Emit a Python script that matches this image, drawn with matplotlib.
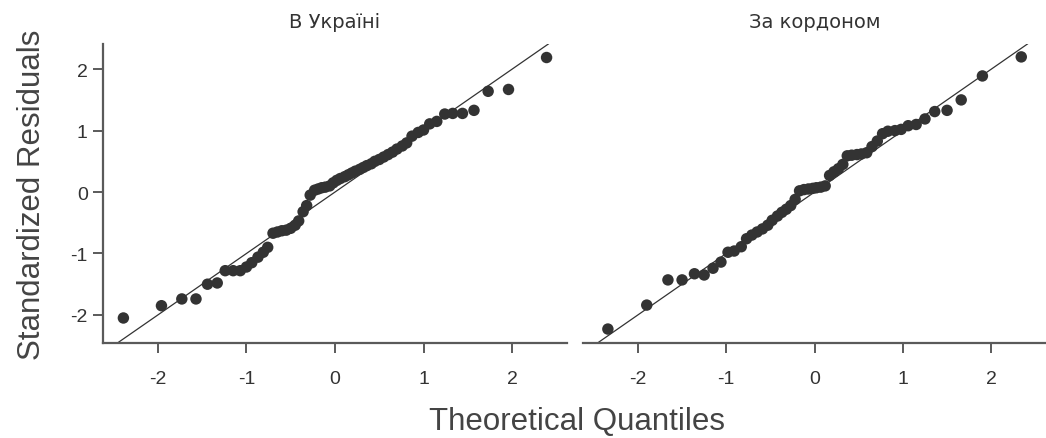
import matplotlib
matplotlib.use("Agg")

import matplotlib.pyplot as plt

plt.rcParams["font.family"] = ["Liberation Sans Narrow", "Liberation Sans", "DejaVu Sans"]
plt.rcParams["axes.unicode_minus"] = False

# panel titles
titles = ["В Україні", "За кордоном"]

# left panel: theoretical quantiles and standardized residuals
ua_x = [-2.39, -1.96, -1.73, -1.57, -1.44, -1.33, -1.24, -1.15, -1.07, -1.00,
        -0.94, -0.87, -0.81, -0.76, -0.70, -0.65, -0.60, -0.55, -0.50, -0.45,
        -0.41, -0.36, -0.32, -0.28, -0.23, -0.19, -0.15, -0.11, -0.06, -0.02,
        0.02, 0.06, 0.11, 0.15, 0.19, 0.23, 0.28, 0.32, 0.36, 0.41,
        0.45, 0.50, 0.55, 0.60, 0.65, 0.70, 0.76, 0.81, 0.87, 0.94,
        1.00, 1.07, 1.15, 1.24, 1.33, 1.44, 1.57, 1.73, 1.96, 2.39]
ua_y = [-2.05, -1.85, -1.74, -1.74, -1.50, -1.48, -1.28, -1.28, -1.28, -1.22,
        -1.15, -1.06, -0.98, -0.90, -0.67, -0.65, -0.63, -0.62, -0.59, -0.54,
        -0.47, -0.32, -0.22, -0.05, 0.03, 0.05, 0.07, 0.08, 0.10, 0.15,
        0.19, 0.22, 0.25, 0.28, 0.31, 0.34, 0.37, 0.40, 0.43, 0.46,
        0.50, 0.53, 0.57, 0.61, 0.65, 0.70, 0.75, 0.80, 0.91, 0.97,
        1.01, 1.11, 1.15, 1.27, 1.28, 1.28, 1.33, 1.64, 1.67, 2.19]

# right panel
ab_x = [-2.34, -1.90, -1.66, -1.50, -1.36, -1.25, -1.15, -1.06, -0.98, -0.91,
        -0.83, -0.77, -0.71, -0.65, -0.59, -0.53, -0.48, -0.42, -0.37, -0.32,
        -0.27, -0.22, -0.17, -0.12, -0.07, -0.02,
        0.02, 0.07, 0.12, 0.17, 0.22, 0.27, 0.32, 0.37, 0.42, 0.48,
        0.53, 0.59, 0.65, 0.71, 0.77, 0.83, 0.91, 0.98, 1.06, 1.15,
        1.25, 1.36, 1.50, 1.66, 1.90, 2.34]
ab_y = [-2.23, -1.84, -1.43, -1.43, -1.33, -1.35, -1.24, -1.14, -0.98, -0.96,
        -0.89, -0.76, -0.70, -0.65, -0.60, -0.54, -0.46, -0.39, -0.33, -0.28,
        -0.22, -0.12, 0.02, 0.04, 0.05, 0.06,
        0.07, 0.08, 0.10, 0.27, 0.33, 0.38, 0.45, 0.59, 0.60, 0.61,
        0.62, 0.64, 0.74, 0.83, 0.95, 0.99, 1.00, 1.02, 1.08, 1.10,
        1.19, 1.31, 1.33, 1.50, 1.89, 2.20]

xticks = [-2, -1, 0, 1, 2]
yticks = [-2, -1, 0, 1, 2]

ink = "#333333"
axis_col = "#5a5a5a"


def main():
    fig = plt.figure(figsize=(10.46, 4.39), dpi=100)
    ax1 = fig.add_axes([0.0985, 0.216, 0.4435, 0.6815])
    ax2 = fig.add_axes([0.5575, 0.216, 0.4425, 0.6815], sharey=ax1)

    for ax, xs, ys, title in [(ax1, ua_x, ua_y, titles[0]),
                              (ax2, ab_x, ab_y, titles[1])]:
        ax.axline((0, 0), slope=1, color=ink, lw=0.9, zorder=1)
        ax.scatter(xs, ys, s=68, color=ink, edgecolors="none", zorder=2)
        ax.set_xlim(-2.62, 2.62)
        ax.set_ylim(-2.46, 2.41)
        ax.set_xticks(xticks)
        ax.set_yticks(yticks)
        ax.set_title(title, fontsize=14, color=ink, pad=12,
                     family=["DejaVu Sans"])
        for s in ["top", "right"]:
            ax.spines[s].set_visible(False)
        ax.spines["bottom"].set_color(axis_col)
        ax.spines["left"].set_color(axis_col)
        ax.spines["bottom"].set_linewidth(1.6)
        ax.spines["left"].set_linewidth(1.6)
        ax.tick_params(direction="out", length=7, width=1.4, color=axis_col,
                       labelsize=14, labelcolor=ink)
        ax.tick_params(axis="x", pad=12)
        ax.tick_params(axis="y", pad=4)

    ax2.spines["left"].set_visible(False)
    ax2.tick_params(axis="y", left=False, labelleft=False)

    ax1.set_ylabel("Standardized Residuals", fontsize=22.5, color="#444444",
                   labelpad=17)
    fig.text(0.552, 0.005, "Theoretical Quantiles", fontsize=22.5,
             color="#444444", ha="center", va="bottom")

    fig.savefig("out.png", dpi=100)


if __name__ == "__main__": main()
